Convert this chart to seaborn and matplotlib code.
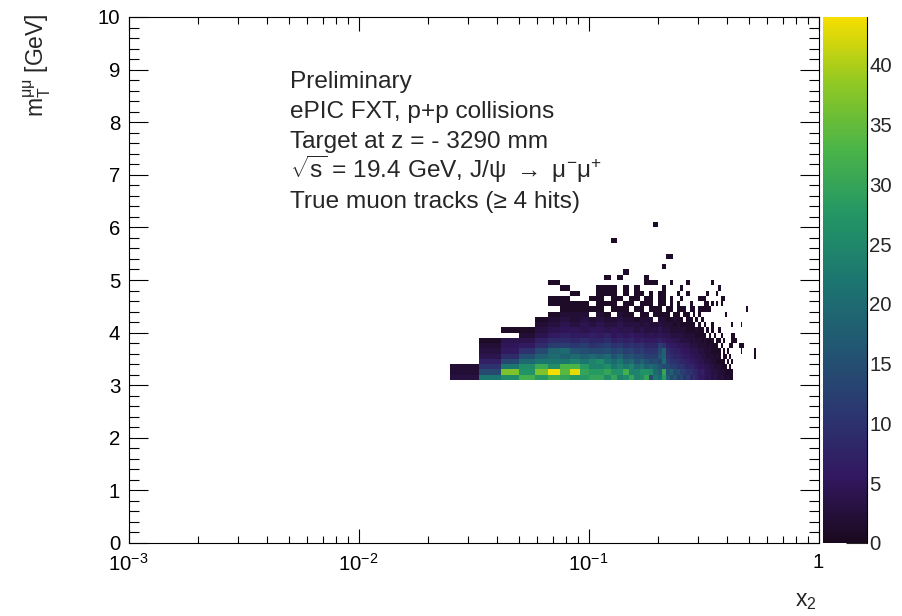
import numpy as np
import pandas as pd
import matplotlib
matplotlib.use("Agg")
import matplotlib.pyplot as plt
from matplotlib.colors import LinearSegmentedColormap
from matplotlib.ticker import (MultipleLocator, FixedLocator, FixedFormatter,
                               LogLocator, NullFormatter)
import seaborn as sns

# ---------------------------------------------------------------- binning
# x2: 120 uniform bins on [0, 1]; first occupied column is bin 3
X_NBINS = 120
X_FIRST_BIN = 3
# m_T^{mumu}: 0.1 GeV bins, first occupied row starts at 3.1 GeV
Y_BIN_WIDTH = 0.1
Y_FIRST_EDGE = 3.1

# ---------------------------------------------------------------- counts
# one list per m_T row (lowest row first), one entry per x2 bin
counts = [
    [3, 22, 26, 32, 28, 32, 30, 28, 28, 30, 30, 26, 30, 24, 26, 30, 24, 26, 30, 15,
     22, 20, 28, 18, 14, 16, 12, 14, 10, 12, 8, 10, 8, 6, 6, 5, 4, 5, 3, 4,
     3, 2, 3, 2, 1, 2, 1, 1],
    [2, 14, 37, 27, 37, 44, 34, 43, 30, 28, 28, 30, 27, 27, 32, 24, 24, 27, 27, 26,
     20, 18, 30, 16, 18, 14, 15, 12, 12, 10, 10, 8, 8, 6, 7, 5, 4, 4, 3, 3,
     3, 2, 2, 2, 1, 1, 1, 1],
    [2, 10, 22, 26, 31, 26, 33, 33, 28, 24, 24, 26, 22, 24, 22, 24, 20, 22, 18, 20,
     18, 16, 14, 14, 12, 12, 10, 11, 9, 8, 8, 7, 6, 5, 5, 4, 4, 3, 3, 2,
     2, 2, 1, 1, 1, 0, 1],
    [0, 7, 14, 20, 22, 22, 22, 24, 22, 24, 26, 22, 20, 22, 18, 20, 16, 18, 16, 14,
     15, 13, 20, 12, 10, 10, 9, 8, 8, 7, 6, 6, 5, 4, 4, 3, 3, 3, 2, 2,
     1, 1, 1, 1, 0, 1, 0, 1],
    [0, 4, 9, 15, 18, 20, 18, 20, 18, 20, 18, 20, 16, 18, 15, 16, 14, 14, 12, 12,
     12, 16, 18, 10, 9, 8, 8, 7, 6, 6, 5, 5, 4, 4, 3, 3, 2, 2, 2, 1,
     2, 1, 0, 1, 1, 0, 1, 0, 0, 0, 0, 0, 0, 0, 0, 0, 0, 0, 0, 0,
     1],
    [0, 3, 6, 10, 14, 19, 20, 16, 15, 14, 14, 15, 13, 14, 12, 13, 11, 12, 10, 10,
     10, 14, 18, 9, 8, 7, 7, 6, 5, 5, 4, 4, 4, 3, 3, 2, 2, 2, 1, 1,
     1, 1, 0, 1, 0, 1, 0, 0, 0, 0, 0, 0, 1, 0, 0, 0, 0, 0, 0, 0,
     1],
    [0, 2, 5, 6, 9, 12, 12, 11, 12, 10, 11, 12, 10, 11, 9, 10, 9, 10, 8, 8,
     8, 12, 10, 7, 6, 6, 5, 5, 4, 4, 3, 3, 3, 2, 2, 2, 1, 2, 1, 1,
     1, 0, 1, 0, 0, 0, 1, 1, 0, 0, 0, 1, 1, 1],
    [0, 1, 4, 4, 7, 9, 9, 8, 9, 8, 8, 9, 7, 8, 7, 8, 6, 7, 6, 6,
     6, 7, 6, 5, 5, 4, 4, 3, 3, 3, 2, 3, 2, 2, 1, 2, 1, 1, 1, 0,
     1, 1, 0, 1, 0, 0, 0, 1, 1, 1],
    [0, 0, 0, 2, 4, 6, 7, 6, 6, 7, 6, 7, 5, 6, 5, 6, 5, 5, 4, 5,
     4, 5, 4, 4, 3, 3, 3, 3, 2, 2, 2, 2, 1, 1, 1, 1, 0, 1, 0, 1,
     0, 0, 1, 0, 0, 0, 0, 1, 1],
    [0, 0, 1, 1, 3, 4, 5, 5, 4, 5, 5, 4, 5, 4, 4, 4, 3, 4, 3, 3,
     3, 4, 3, 3, 2, 2, 2, 2, 2, 1, 1, 1, 2, 1, 1, 0, 1, 0, 1, 0,
     0, 1],
    [0, 0, 0, 0, 2, 3, 4, 3, 4, 3, 4, 3, 3, 4, 3, 3, 3, 2, 3, 2,
     2, 3, 2, 2, 2, 1, 2, 1, 1, 1, 1, 1, 0, 1, 0, 1, 0, 0, 1, 0,
     0, 0, 0, 0, 0, 0, 0, 1, 0, 0, 0, 0, 1],
    [0, 0, 0, 0, 1, 2, 3, 2, 3, 2, 3, 2, 2, 3, 2, 2, 1, 2, 2, 2,
     0, 2, 2, 1, 1, 2, 1, 1, 0, 1, 1, 0, 1, 0, 1],
    [0, 0, 0, 0, 0, 1, 2, 2, 2, 0, 2, 1, 0, 2, 1, 1, 0, 1, 1, 0,
     1, 1, 1, 1, 0, 1, 1, 0, 1, 1, 0, 1, 0, 1, 0, 0, 0, 0, 0, 0,
     0, 0, 0, 0, 1],
    [0, 0, 0, 0, 0, 0, 1, 1, 1, 1, 1, 0, 1, 1, 1, 0, 1, 1, 0, 1,
     1, 1, 0, 1, 1, 0, 1, 1, 1, 0, 1, 1, 0, 1, 1, 1, 1, 1, 0, 0,
     0, 0, 0, 0, 0, 0, 0, 0, 0, 0, 0, 0, 0, 0, 0, 1],
    [0, 0, 0, 0, 0, 1, 1, 1, 1, 0, 1, 1, 1, 0, 1, 1, 0, 1, 1, 1,
     0, 1, 1, 0, 1, 0, 1, 0, 0, 0, 1, 0, 0, 0, 0, 1, 1, 0, 1, 0,
     1, 0, 1],
    [0, 0, 0, 0, 0, 1, 1, 0, 0, 1, 1, 0, 1, 1, 0, 1, 1, 0, 1, 1,
     0, 1, 1, 0, 1, 0, 0, 1, 0, 0, 0, 0, 0, 1, 1, 1, 0, 0, 0, 0,
     0, 0, 1, 1],
    [0, 0, 0, 0, 0, 0, 0, 1, 0, 0, 1, 1, 1, 0, 1, 0, 1, 1, 0, 1,
     0, 1, 1, 0, 0, 0, 1, 0, 0, 1, 0, 0, 0, 0, 0, 0, 1, 0, 0, 0,
     1],
    [0, 0, 0, 0, 0, 0, 1, 0, 0, 0, 1, 1, 1, 0, 1, 0, 1, 0, 0, 0,
     0, 0, 1, 0, 0, 0, 0, 1, 0, 0, 0, 0, 0, 0, 0, 0, 0, 0, 0, 0,
     0, 1],
    [0, 0, 0, 0, 0, 1, 0, 0, 0, 0, 0, 0, 0, 0, 0, 0, 0, 0, 1, 1,
     1, 0, 0, 0, 1, 0, 0, 0, 0, 1, 0, 0, 0, 0, 0, 0, 0, 0, 1],
    [0, 0, 0, 0, 0, 0, 0, 0, 0, 0, 0, 1, 0, 1, 0, 0, 0, 0, 1],
    [0, 0, 0, 0, 0, 0, 0, 0, 0, 0, 0, 0, 0, 0, 1],
    [0, 0, 0, 0, 0, 0, 0, 0, 0, 0, 0, 0, 0, 0, 0, 0, 0, 0, 0, 0,
     0, 0, 1],
    [],
    [0, 0, 0, 0, 0, 0, 0, 0, 0, 0, 0, 0, 0, 0, 0, 0, 0, 0, 0, 0,
     0, 0, 0, 1, 1],
    [],
    [],
    [0, 0, 0, 0, 0, 0, 0, 0, 0, 0, 0, 0, 1],
    [],
    [],
    [0, 0, 0, 0, 0, 0, 0, 0, 0, 0, 0, 0, 0, 0, 0, 0, 0, 0, 0, 0,
     1],
]

# ---------------------------------------------------------------- labels
x_tick_values = [1e-3, 1e-2, 1e-1, 1.0]
x_tick_labels = [r"$10^{-3}$", r"$10^{-2}$", r"$10^{-1}$", "1"]
z_ticks = [0, 5, 10, 15, 20, 25, 30, 35, 40]
info_lines = [
    "Preliminary",
    "ePIC FXT, p+p collisions",
    "Target at z = - 3290 mm",
    "$\\sqrt{\\mathrm{s}}$ = 19.4 GeV, J/\u03c8 $\\rightarrow$ \u03bc$^{-}$\u03bc$^{+}$",
    "True muon tracks (\u2265 4 hits)",
]

# ---------------------------------------------------------------- long table
recs = []
for j, row in enumerate(counts):
    for c, n in enumerate(row):
        if n > 0:
            k = X_FIRST_BIN + c
            recs.append({"x2": (k + 0.5) / X_NBINS,
                         "mT": Y_FIRST_EDGE + (j + 0.5) * Y_BIN_WIDTH,
                         "n": n})
df = pd.DataFrame(recs)

n_cols = max(len(r) for r in counts)
x_edges = np.arange(X_FIRST_BIN, X_FIRST_BIN + n_cols + 1) / X_NBINS
y_edges = Y_FIRST_EDGE + Y_BIN_WIDTH * np.arange(len(counts) + 1)
zmax = df["n"].max()

# ROOT-like viridis palette
red = [26, 51, 43, 33, 28, 35, 74, 144, 246]
green = [9, 24, 55, 87, 118, 150, 180, 200, 222]
blue = [30, 96, 112, 114, 112, 101, 72, 35, 0]
stops = [(i / 8, (r / 255, g / 255, b / 255))
         for i, (r, g, b) in enumerate(zip(red, green, blue))]
cmap = LinearSegmentedColormap.from_list("root_viridis", stops, N=255)

# ---------------------------------------------------------------- style
sns.set_style("ticks")
plt.rcParams["font.family"] = ["Liberation Sans", "DejaVu Sans"]
plt.rcParams["mathtext.fontset"] = "custom"
plt.rcParams["mathtext.rm"] = "Liberation Sans"
plt.rcParams["mathtext.it"] = "Liberation Sans:italic"
plt.rcParams["mathtext.bf"] = "Liberation Sans:bold"
plt.rcParams["axes.linewidth"] = 0.8

W, H = 902, 616
fig = plt.figure(figsize=(W / 100, H / 100), dpi=100)
ax = fig.add_axes([128.5 / W, 1 - 543 / H, 690 / W, 526 / H])
cax = fig.add_axes([822.5 / W, 1 - 543 / H, 44 / W, 526 / H])

sns.histplot(data=df, x="x2", y="mT", weights="n",
             bins=(np.log10(x_edges), y_edges), log_scale=(True, False),
             cmap=cmap, vmin=0, vmax=zmax, cbar=True, cbar_ax=cax, ax=ax)

ax.set_xlim(1e-3, 1)
ax.set_ylim(0, 10)
ax.set_xlabel("")
ax.set_ylabel("")

ax.xaxis.set_major_locator(FixedLocator(x_tick_values))
ax.xaxis.set_major_formatter(FixedFormatter(x_tick_labels))
ax.xaxis.set_minor_locator(LogLocator(base=10, subs=np.arange(2, 10)))
ax.xaxis.set_minor_formatter(NullFormatter())
ax.yaxis.set_major_locator(MultipleLocator(1))
ax.yaxis.set_minor_locator(MultipleLocator(0.2))

ax.tick_params(which="both", direction="in", top=True, right=True,
               width=0.8, colors="black", labelsize=14.7)
ax.tick_params(axis="x", which="major", length=10, pad=7)
ax.tick_params(axis="x", which="minor", length=5)
ax.tick_params(axis="y", which="major", length=14, pad=6)
ax.tick_params(axis="y", which="minor", length=7)
for s in ax.spines.values():
    s.set_color("black")

cb = ax.collections[0].colorbar
cb.set_ticks(z_ticks)
cb.minorticks_off()
cb.outline.set_visible(False)
cax.tick_params(direction="in", length=15, width=0.8, labelsize=14.7, pad=2)
cax.plot([1, 1], [0, 1], transform=cax.transAxes, color="black", lw=0.8,
         clip_on=False)

# axis titles at the ends of the axes
fig.text(37 / W, 1 - 13 / H, "m$_{\\mathrm{T}}^{\\mathrm{\u03bc\u03bc}}$ [GeV]",
         rotation=90, ha="center", va="top", fontsize=16.5)
fig.text(817 / W, 1 - 606 / H, "x$_{2}$", ha="right", va="baseline",
         fontsize=16.5)

for i, line in enumerate(info_lines):
    fig.text(290 / W, 1 - (88.3 + 30 * i) / H, line, ha="left",
             va="baseline", fontsize=17.6)

fig.savefig("out.png", dpi=100)
